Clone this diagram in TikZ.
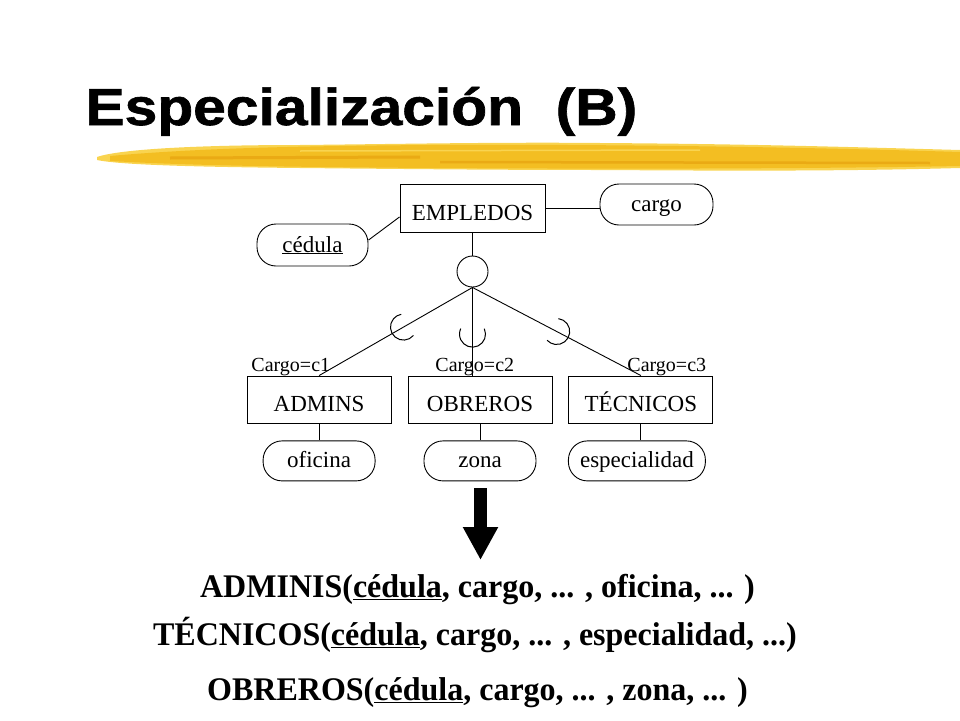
\documentclass[tikz,border=0pt]{standalone}
\usepackage{fontspec}
\setmainfont{Liberation Serif}
\newfontfamily\titlefont{Liberation Sans Bold}[FakeBold=1.2]
\usetikzlibrary{positioning,calc,arrows.meta}
\definecolor{brushlight}{RGB}{249,212,80}
\definecolor{brushgold}{RGB}{243,190,34}
\definecolor{brushdark}{RGB}{234,170,20}

\begin{document}
\begin{tikzpicture}[x=1pt, y=-1pt, line width=.9pt,
	entity/.style={draw, minimum width=144pt, minimum height=47pt, text height=24pt, text depth=0pt, font=\fontsize{23}{27}\selectfont},
	attrib/.style={draw, rounded corners=19pt, minimum height=40pt, text height=19pt, text depth=5pt, font=\fontsize{23}{27}\selectfont},
	cond/.style={anchor=base west, inner sep=0, font=\fontsize{20}{24}\selectfont},
	relation/.style={anchor=base, inner sep=0, font=\bfseries\fontsize{33}{40}\selectfont},
	subset/.style={line width=1pt}]
	\useasboundingbox (0,0) rectangle (960,720);
% title and brush stroke
	\fill[brushlight] (97,157) .. controls (120,149) and (200,145) .. (300,145) .. controls (400,144) and (500,142) .. (600,143) .. controls (750,144) and (850,147) .. (960,150) -- (960,168) .. controls (850,171) and (750,171) .. (600,170) .. controls (500,170) and (400,169) .. (300,168) .. controls (200,167) and (120,165) .. (97,160) -- cycle;
	\fill[brushgold] (110,156) .. controls (200,148) and (300,146) .. (430,145) .. controls (600,144) and (800,147) .. (960,152) -- (960,166) .. controls (800,169) and (600,169) .. (430,168) .. controls (300,167) and (200,166) .. (110,161) -- cycle;
	\draw[brushdark, line width=3pt] (170,158) -- (420,157);
	\draw[brushdark, line width=2.5pt] (440,162) -- (930,163);
	\draw[brushlight, line width=1.5pt] (300,151) -- (700,150);
	\node[anchor=base west, inner sep=0, font=\titlefont\fontsize{52}{60}\selectfont] (title) at (85,125) {\scalebox{1.13}[1]{Especialización\ \ (B)}};
% superclass
	\node[entity, minimum width=145pt, minimum height=48pt] (empledos) at (472.5,208) {EMPLEDOS};
	\node[attrib, minimum width=113pt, minimum height=41pt] (cargo) at (656.5,204.5) {cargo};
	\node[attrib, minimum width=111pt, minimum height=42pt] (cedula) at (312.5,245) {\underline{cédula}};
	\node[draw, circle, minimum size=31pt, inner sep=0] (isa) at (472.5,271.5) {};
	\draw (empledos.east) -- (empledos.east -| cargo.west);
	\draw (empledos.187) -- (cedula.5);
	\draw (empledos) -- (isa);
% subclasses
	\node[entity] (obreros) at (480,399.5) {OBREROS};
	\node[entity, left=16pt of obreros] (admins) {ADMINS};
	\node[entity, right=16pt of obreros] (tecnicos) {TÉCNICOS};
	\node[attrib, minimum width=112pt, below=17pt of admins] (oficina) {oficina};
	\node[attrib, minimum width=112pt, below=17pt of obreros] (zona) {zona};
	\node[attrib, minimum width=137pt, below=17pt of tecnicos, xshift=-4pt] (especialidad) {especialidad};
	\draw (admins) -- (oficina);
	\draw (obreros) -- (zona);
	\draw (tecnicos.south) -- (tecnicos.south |- especialidad.north);
	\draw (isa.south) -- (admins.north);
	\draw (isa.south) -- (isa.south |- obreros.north);
	\draw (isa.south) -- (tecnicos.north);
% subset marks
	\draw[subset] ($(isa.south)!.45!(admins.north)$) ++(39.9:13) arc[start angle=39.9, end angle=259.9, radius=13];
	\draw[subset] ($(isa.south)!.53!(isa.south |- obreros.north)$) ++(-25:13) arc[start angle=-25, end angle=205, radius=13];
	\draw[subset] ($(isa.south)!.5!(tecnicos.north)$) ++(-82.6:13) arc[start angle=-82.6, end angle=137.4, radius=13];
% conditions
	\node[cond] (condone) at (251,371) {Cargo=c1};
	\node[cond] (condtwo) at (435,371) {Cargo=c2};
	\node[cond] (condthree) at (627,371) {Cargo=c3};
% arrow and relations
	\coordinate (arrtop) at (480.5,488);
	\coordinate (arrtip) at (480.5,560);
	\draw[line width=13pt, -{Triangle[length=33pt, width=33pt]}] (arrtop) -- (arrtip);
	\node[relation] (reladmins) at (477.5,597) {\scalebox{.97}[1]{ADMINIS(\underline{cédula}, cargo, ... , oficina, ... )}};
	\node[relation] (reltecnicos) at (475,645) {\scalebox{.97}[1]{TÉCNICOS(\underline{cédula}, cargo, ... , especialidad, ...)}};
	\node[relation] (relobreros) at (477.5,700) {\scalebox{.97}[1]{OBREROS(\underline{cédula}, cargo, ... , zona, ... )}};
\end{tikzpicture}
\end{document}
